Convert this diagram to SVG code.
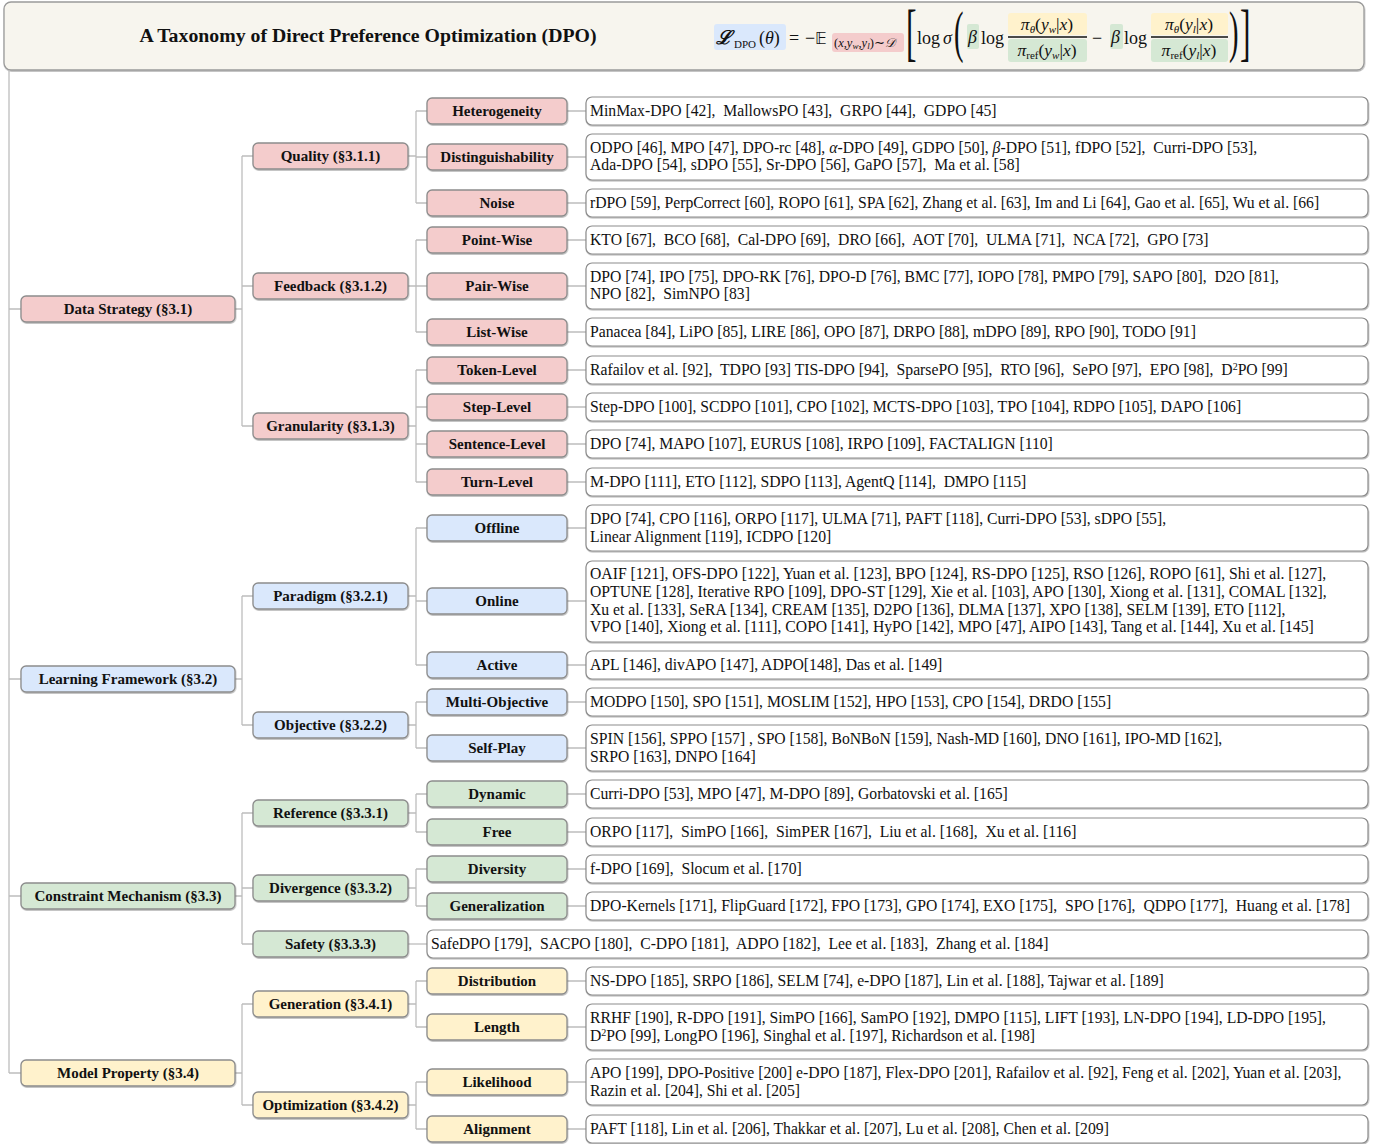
<svg xmlns="http://www.w3.org/2000/svg" width="1376" height="1144" viewBox="0 0 1376 1144">
<defs>
<filter id="sh" x="-5%" y="-20%" width="110%" height="150%"><feDropShadow dx="0.5" dy="1" stdDeviation="0.6" flood-color="#000" flood-opacity="0.3"/></filter>
<style>
.n{stroke:#8c8c8c;stroke-width:1.3;filter:url(#sh)}
.pk{fill:#f4cccc}.bl{fill:#dae8fc}.gr{fill:#d5e8d4}.yl{fill:#fff2cc}
.leaf{fill:#fff;stroke:#8c8c8c;stroke-width:1.2;filter:url(#sh)}
.lbl{font-family:"Liberation Serif",serif;font-weight:bold;font-size:15px;text-anchor:middle;fill:#111}
.t{font-family:"Liberation Serif",serif;font-size:15.7px;fill:#111;white-space:pre}
.c{stroke:#bdbdbd;stroke-width:1.3;fill:none}
.m{font-family:"Liberation Serif",serif;fill:#111}
.i{font-style:italic}
</style>
</defs>
<rect width="1376" height="1144" fill="#ffffff"/>

<g id="header">
<rect x="4" y="2" width="1360" height="68" rx="7" fill="#f7f5ee" stroke="#9a9a9a" stroke-width="1.3" filter="url(#sh)"/>
<text x="368" y="42" text-anchor="middle" font-family="Liberation Serif,serif" font-weight="bold" font-size="19.8" fill="#111">A Taxonomy of Direct Preference Optimization (DPO)</text>
<g id="formula">
<rect x="714" y="24" width="72" height="26" rx="3" fill="#dae8fc"/>
<rect x="832" y="33" width="72" height="19" rx="3" fill="#f4cccc"/>
<rect x="967" y="24" width="12" height="25" rx="2" fill="#d5e8d4"/>
<rect x="1110" y="24" width="13" height="25" rx="2" fill="#d5e8d4"/>
<rect x="1008" y="13" width="79" height="22" rx="3" fill="#fff2cc"/>
<rect x="1008" y="39" width="79" height="23" rx="3" fill="#d5e8d4"/>
<rect x="1151" y="13" width="77" height="22" rx="3" fill="#fff2cc"/>
<rect x="1151" y="39" width="77" height="23" rx="3" fill="#d5e8d4"/>
<text class="m" x="716" y="44" style="font-family:'DejaVu Serif',serif;font-size:19px;font-weight:bold;font-style:italic">ℒ</text>
<text class="m" x="734" y="48" style="font-size:11px">DPO</text>
<text class="m" x="759" y="44" style="font-size:18px">(<tspan class="i">θ</tspan>)</text>
<text class="m" x="789" y="44" style="font-size:18px">=</text>
<text class="m" x="805" y="44" style="font-size:18px">−</text>
<text class="m" x="815" y="44" style="font-family:'DejaVu Sans',sans-serif;font-size:16px">𝔼</text>
<text class="m" x="834" y="47" style="font-size:12.5px">(<tspan class="i">x</tspan>,<tspan class="i">y</tspan><tspan class="i" style="font-size:9px" dy="2">w</tspan><tspan dy="-2">,</tspan><tspan class="i">y</tspan><tspan class="i" style="font-size:9px" dy="2">l</tspan><tspan dy="-2">)∼</tspan><tspan class="i">𝒟</tspan></text>
<text class="m" x="0" y="0" style="font-size:63px" transform="translate(906,53) scale(0.5,1)">[</text>
<text class="m" x="917" y="44" style="font-size:18px">log</text>
<text class="m i" x="943" y="44" style="font-size:18px">σ</text>
<text class="m" x="0" y="0" style="font-size:57px" transform="translate(954,51) scale(0.5,1)">(</text>
<text class="m i" x="968" y="43" style="font-size:18px">β</text>
<text class="m" x="981" y="44" style="font-size:18px">log</text>
<line x1="1008" y1="37" x2="1087" y2="37" stroke="#111" stroke-width="1.3"/>
<text class="m" x="1047" y="30" text-anchor="middle" style="font-size:17.5px"><tspan class="i">π</tspan><tspan class="i" style="font-size:11px" dy="3">θ</tspan><tspan dy="-3">(</tspan><tspan class="i">y</tspan><tspan class="i" style="font-size:11px" dy="3">w</tspan><tspan dy="-3">|</tspan><tspan class="i">x</tspan>)</text>
<text class="m" x="1047" y="56" text-anchor="middle" style="font-size:17.5px"><tspan class="i">π</tspan><tspan style="font-size:11px" dy="3">ref</tspan><tspan dy="-3">(</tspan><tspan class="i">y</tspan><tspan class="i" style="font-size:11px" dy="3">w</tspan><tspan dy="-3">|</tspan><tspan class="i">x</tspan>)</text>
<text class="m" x="1092" y="44" style="font-size:18px">−</text>
<text class="m i" x="1111" y="43" style="font-size:18px">β</text>
<text class="m" x="1124" y="44" style="font-size:18px">log</text>
<line x1="1151" y1="37" x2="1228" y2="37" stroke="#111" stroke-width="1.3"/>
<text class="m" x="1189" y="30" text-anchor="middle" style="font-size:17.5px"><tspan class="i">π</tspan><tspan class="i" style="font-size:11px" dy="3">θ</tspan><tspan dy="-3">(</tspan><tspan class="i">y</tspan><tspan class="i" style="font-size:11px" dy="3">l</tspan><tspan dy="-3">|</tspan><tspan class="i">x</tspan>)</text>
<text class="m" x="1189" y="56" text-anchor="middle" style="font-size:17.5px"><tspan class="i">π</tspan><tspan style="font-size:11px" dy="3">ref</tspan><tspan dy="-3">(</tspan><tspan class="i">y</tspan><tspan class="i" style="font-size:11px" dy="3">l</tspan><tspan dy="-3">|</tspan><tspan class="i">x</tspan>)</text>
<text class="m" x="0" y="0" style="font-size:57px" transform="translate(1229,51) scale(0.5,1)">)</text>
<text class="m" x="0" y="0" style="font-size:63px" transform="translate(1240,53) scale(0.5,1)">]</text>
</g>
</g>

<g id="connectors">
<path class="c" d="M9,70V1073M9,309H21M9,679H21M9,896H21M9,1073H21"/>
<path class="c" d="M235,309H242M242,156V426M242,156H253M242,286H253M242,426H253"/>
<path class="c" d="M235,679H242M242,596V725M242,596H253M242,725H253"/>
<path class="c" d="M235,896H242M242,813V944M242,813H253M242,888H253M242,944H253"/>
<path class="c" d="M235,1073H242M242,1004V1105M242,1004H253M242,1105H253"/>
<path class="c" d="M408,156H416M416,111V203M416,111H427M416,157H427M416,203H427"/>
<path class="c" d="M408,286H416M416,240V332M416,240H427M416,286H427M416,332H427"/>
<path class="c" d="M408,426H416M416,370V482M416,370H427M416,407H427M416,444H427M416,482H427"/>
<path class="c" d="M408,596H416M416,528V665M416,528H427M416,601H427M416,665H427"/>
<path class="c" d="M408,725H416M416,702V748M416,702H427M416,748H427"/>
<path class="c" d="M408,813H416M416,794V832M416,794H427M416,832H427"/>
<path class="c" d="M408,888H416M416,869V906M416,869H427M416,906H427"/>
<path class="c" d="M408,944H427"/>
<path class="c" d="M408,1004H416M416,981V1027M416,981H427M416,1027H427"/>
<path class="c" d="M408,1105H416M416,1082V1129M416,1082H427M416,1129H427"/>
<path class="c" d="M567,111H586M567,157H586M567,203H586M567,240H586M567,286H586M567,332H586M567,370H586M567,407H586M567,444H586M567,482H586M567,528H586M567,601H586M567,665H586M567,702H586M567,748H586M567,794H586M567,832H586M567,869H586M567,906H586M567,981H586M567,1027H586M567,1082H586M567,1129H586"/>
</g>

<g id="level1">
<g id="data-strategy"><rect class="n pk" x="21" y="296" width="214" height="26" rx="5"/><text class="lbl" x="128" y="314">Data Strategy (§3.1)</text></g>
<g id="learning-framework"><rect class="n bl" x="21" y="666" width="214" height="26" rx="5"/><text class="lbl" x="128" y="684">Learning Framework (§3.2)</text></g>
<g id="constraint-mechanism"><rect class="n gr" x="21" y="883" width="214" height="26" rx="5"/><text class="lbl" x="128" y="901">Constraint Mechanism (§3.3)</text></g>
<g id="model-property"><rect class="n yl" x="21" y="1060" width="214" height="26" rx="5"/><text class="lbl" x="128" y="1078">Model Property (§3.4)</text></g>
</g>

<g id="level2">
<g id="quality"><rect class="n pk" x="253" y="143" width="155" height="26" rx="5"/><text class="lbl" x="330.5" y="161">Quality (§3.1.1)</text></g>
<g id="feedback"><rect class="n pk" x="253" y="273" width="155" height="26" rx="5"/><text class="lbl" x="330.5" y="291">Feedback (§3.1.2)</text></g>
<g id="granularity"><rect class="n pk" x="253" y="413" width="155" height="26" rx="5"/><text class="lbl" x="330.5" y="431">Granularity (§3.1.3)</text></g>
<g id="paradigm"><rect class="n bl" x="253" y="583" width="155" height="26" rx="5"/><text class="lbl" x="330.5" y="601">Paradigm (§3.2.1)</text></g>
<g id="objective"><rect class="n bl" x="253" y="712" width="155" height="26" rx="5"/><text class="lbl" x="330.5" y="730">Objective (§3.2.2)</text></g>
<g id="reference"><rect class="n gr" x="253" y="800" width="155" height="26" rx="5"/><text class="lbl" x="330.5" y="818">Reference (§3.3.1)</text></g>
<g id="divergence"><rect class="n gr" x="253" y="875" width="155" height="26" rx="5"/><text class="lbl" x="330.5" y="893">Divergence (§3.3.2)</text></g>
<g id="safety"><rect class="n gr" x="253" y="931" width="155" height="26" rx="5"/><text class="lbl" x="330.5" y="949">Safety (§3.3.3)</text></g>
<g id="generation"><rect class="n yl" x="253" y="991" width="155" height="26" rx="5"/><text class="lbl" x="330.5" y="1009">Generation (§3.4.1)</text></g>
<g id="optimization"><rect class="n yl" x="253" y="1092" width="155" height="26" rx="5"/><text class="lbl" x="330.5" y="1110">Optimization (§3.4.2)</text></g>
</g>

<g id="level3">
<g id="heterogeneity"><rect class="n pk" x="427" y="98" width="140" height="26" rx="5"/><text class="lbl" x="497" y="116">Heterogeneity</text></g>
<g id="distinguishability"><rect class="n pk" x="427" y="144" width="140" height="26" rx="5"/><text class="lbl" x="497" y="162">Distinguishability</text></g>
<g id="noise"><rect class="n pk" x="427" y="190" width="140" height="26" rx="5"/><text class="lbl" x="497" y="208">Noise</text></g>
<g id="point-wise"><rect class="n pk" x="427" y="227" width="140" height="26" rx="5"/><text class="lbl" x="497" y="245">Point-Wise</text></g>
<g id="pair-wise"><rect class="n pk" x="427" y="273" width="140" height="26" rx="5"/><text class="lbl" x="497" y="291">Pair-Wise</text></g>
<g id="list-wise"><rect class="n pk" x="427" y="319" width="140" height="26" rx="5"/><text class="lbl" x="497" y="337">List-Wise</text></g>
<g id="token-level"><rect class="n pk" x="427" y="357" width="140" height="26" rx="5"/><text class="lbl" x="497" y="375">Token-Level</text></g>
<g id="step-level"><rect class="n pk" x="427" y="394" width="140" height="26" rx="5"/><text class="lbl" x="497" y="412">Step-Level</text></g>
<g id="sentence-level"><rect class="n pk" x="427" y="431" width="140" height="26" rx="5"/><text class="lbl" x="497" y="449">Sentence-Level</text></g>
<g id="turn-level"><rect class="n pk" x="427" y="469" width="140" height="26" rx="5"/><text class="lbl" x="497" y="487">Turn-Level</text></g>
<g id="offline"><rect class="n bl" x="427" y="515" width="140" height="26" rx="5"/><text class="lbl" x="497" y="533">Offline</text></g>
<g id="online"><rect class="n bl" x="427" y="588" width="140" height="26" rx="5"/><text class="lbl" x="497" y="606">Online</text></g>
<g id="active"><rect class="n bl" x="427" y="652" width="140" height="26" rx="5"/><text class="lbl" x="497" y="670">Active</text></g>
<g id="multi-objective"><rect class="n bl" x="427" y="689" width="140" height="26" rx="5"/><text class="lbl" x="497" y="707">Multi-Objective</text></g>
<g id="self-play"><rect class="n bl" x="427" y="735" width="140" height="26" rx="5"/><text class="lbl" x="497" y="753">Self-Play</text></g>
<g id="dynamic"><rect class="n gr" x="427" y="781" width="140" height="26" rx="5"/><text class="lbl" x="497" y="799">Dynamic</text></g>
<g id="free"><rect class="n gr" x="427" y="819" width="140" height="26" rx="5"/><text class="lbl" x="497" y="837">Free</text></g>
<g id="diversity"><rect class="n gr" x="427" y="856" width="140" height="26" rx="5"/><text class="lbl" x="497" y="874">Diversity</text></g>
<g id="generalization"><rect class="n gr" x="427" y="893" width="140" height="26" rx="5"/><text class="lbl" x="497" y="911">Generalization</text></g>
<g id="distribution"><rect class="n yl" x="427" y="968" width="140" height="26" rx="5"/><text class="lbl" x="497" y="986">Distribution</text></g>
<g id="length"><rect class="n yl" x="427" y="1014" width="140" height="26" rx="5"/><text class="lbl" x="497" y="1032">Length</text></g>
<g id="likelihood"><rect class="n yl" x="427" y="1069" width="140" height="26" rx="5"/><text class="lbl" x="497" y="1087">Likelihood</text></g>
<g id="alignment"><rect class="n yl" x="427" y="1116" width="140" height="26" rx="5"/><text class="lbl" x="497" y="1134">Alignment</text></g>
</g>

<g id="leaves">
<g id="leaf-heterogeneity"><rect class="leaf" x="586" y="97" width="782" height="28" rx="6"/><text class="t" x="590" y="116">MinMax-DPO [42],  MallowsPO [43],  GRPO [44],  GDPO [45]</text></g>
<g id="leaf-distinguishability"><rect class="leaf" x="586" y="134" width="782" height="46" rx="6"/><text class="t" x="590" y="153">ODPO [46], MPO [47], DPO-rc [48], <tspan class="i">α</tspan>-DPO [49], GDPO [50], <tspan class="i">β</tspan>-DPO [51], fDPO [52],  Curri-DPO [53],</text><text class="t" x="590" y="170">Ada-DPO [54], sDPO [55], Sr-DPO [56], GaPO [57],  Ma et al. [58]</text></g>
<g id="leaf-noise"><rect class="leaf" x="586" y="189" width="782" height="28" rx="6"/><text class="t" x="590" y="208">rDPO [59], PerpCorrect [60], ROPO [61], SPA [62], Zhang et al. [63], Im and Li [64], Gao et al. [65], Wu et al. [66]</text></g>
<g id="leaf-point-wise"><rect class="leaf" x="586" y="226" width="782" height="28" rx="6"/><text class="t" x="590" y="245">KTO [67],  BCO [68],  Cal-DPO [69],  DRO [66],  AOT [70],  ULMA [71],  NCA [72],  GPO [73]</text></g>
<g id="leaf-pair-wise"><rect class="leaf" x="586" y="263" width="782" height="46" rx="6"/><text class="t" x="590" y="282">DPO [74], IPO [75], DPO-RK [76], DPO-D [76], BMC [77], IOPO [78], PMPO [79], SAPO [80],  D2O [81],</text><text class="t" x="590" y="299">NPO [82],  SimNPO [83]</text></g>
<g id="leaf-list-wise"><rect class="leaf" x="586" y="318" width="782" height="28" rx="6"/><text class="t" x="590" y="337">Panacea [84], LiPO [85], LIRE [86], OPO [87], DRPO [88], mDPO [89], RPO [90], TODO [91]</text></g>
<g id="leaf-token-level"><rect class="leaf" x="586" y="356" width="782" height="28" rx="6"/><text class="t" x="590" y="375">Rafailov et al. [92],  TDPO [93] TIS-DPO [94],  SparsePO [95],  RTO [96],  SePO [97],  EPO [98],  D<tspan style="font-size:10px" dy="-5">2</tspan><tspan dy="5">PO [99]</tspan></text></g>
<g id="leaf-step-level"><rect class="leaf" x="586" y="393" width="782" height="28" rx="6"/><text class="t" x="590" y="412">Step-DPO [100], SCDPO [101], CPO [102], MCTS-DPO [103], TPO [104], RDPO [105], DAPO [106]</text></g>
<g id="leaf-sentence-level"><rect class="leaf" x="586" y="430" width="782" height="28" rx="6"/><text class="t" x="590" y="449">DPO [74], MAPO [107], EURUS [108], IRPO [109], FACTALIGN [110]</text></g>
<g id="leaf-turn-level"><rect class="leaf" x="586" y="468" width="782" height="28" rx="6"/><text class="t" x="590" y="487">M-DPO [111], ETO [112], SDPO [113], AgentQ [114],  DMPO [115]</text></g>
<g id="leaf-offline"><rect class="leaf" x="586" y="505" width="782" height="46" rx="6"/><text class="t" x="590" y="524">DPO [74], CPO [116], ORPO [117], ULMA [71], PAFT [118], Curri-DPO [53], sDPO [55],</text><text class="t" x="590" y="542">Linear Alignment [119], ICDPO [120]</text></g>
<g id="leaf-online"><rect class="leaf" x="586" y="561" width="782" height="81" rx="6"/><text class="t" x="590" y="579">OAIF [121], OFS-DPO [122], Yuan et al. [123], BPO [124], RS-DPO [125], RSO [126], ROPO [61], Shi et al. [127],</text><text class="t" x="590" y="597">OPTUNE [128], Iterative RPO [109], DPO-ST [129], Xie et al. [103], APO [130], Xiong et al. [131], COMAL [132],</text><text class="t" x="590" y="615">Xu et al. [133], SeRA [134], CREAM [135], D2PO [136], DLMA [137], XPO [138], SELM [139], ETO [112],</text><text class="t" x="590" y="632">VPO [140], Xiong et al. [111], COPO [141], HyPO [142], MPO [47], AIPO [143], Tang et al. [144], Xu et al. [145]</text></g>
<g id="leaf-active"><rect class="leaf" x="586" y="651" width="782" height="28" rx="6"/><text class="t" x="590" y="670">APL [146], divAPO [147], ADPO[148], Das et al. [149]</text></g>
<g id="leaf-multi-objective"><rect class="leaf" x="586" y="688" width="782" height="28" rx="6"/><text class="t" x="590" y="707">MODPO [150], SPO [151], MOSLIM [152], HPO [153], CPO [154], DRDO [155]</text></g>
<g id="leaf-self-play"><rect class="leaf" x="586" y="725" width="782" height="46" rx="6"/><text class="t" x="590" y="744">SPIN [156], SPPO [157] , SPO [158], BoNBoN [159], Nash-MD [160], DNO [161], IPO-MD [162],</text><text class="t" x="590" y="762">SRPO [163], DNPO [164]</text></g>
<g id="leaf-dynamic"><rect class="leaf" x="586" y="780" width="782" height="28" rx="6"/><text class="t" x="590" y="799">Curri-DPO [53], MPO [47], M-DPO [89], Gorbatovski et al. [165]</text></g>
<g id="leaf-free"><rect class="leaf" x="586" y="818" width="782" height="28" rx="6"/><text class="t" x="590" y="837">ORPO [117],  SimPO [166],  SimPER [167],  Liu et al. [168],  Xu et al. [116]</text></g>
<g id="leaf-diversity"><rect class="leaf" x="586" y="855" width="782" height="28" rx="6"/><text class="t" x="590" y="874">f-DPO [169],  Slocum et al. [170]</text></g>
<g id="leaf-generalization"><rect class="leaf" x="586" y="892" width="782" height="28" rx="6"/><text class="t" x="590" y="911">DPO-Kernels [171], FlipGuard [172], FPO [173], GPO [174], EXO [175],  SPO [176],  QDPO [177],  Huang et al. [178]</text></g>
<g id="leaf-safety"><rect class="leaf" x="427" y="930" width="941" height="28" rx="6"/><text class="t" x="431" y="949">SafeDPO [179],  SACPO [180],  C-DPO [181],  ADPO [182],  Lee et al. [183],  Zhang et al. [184]</text></g>
<g id="leaf-distribution"><rect class="leaf" x="586" y="967" width="782" height="28" rx="6"/><text class="t" x="590" y="986">NS-DPO [185], SRPO [186], SELM [74], e-DPO [187], Lin et al. [188], Tajwar et al. [189]</text></g>
<g id="leaf-length"><rect class="leaf" x="586" y="1004" width="782" height="46" rx="6"/><text class="t" x="590" y="1023">RRHF [190], R-DPO [191], SimPO [166], SamPO [192], DMPO [115], LIFT [193], LN-DPO [194], LD-DPO [195],</text><text class="t" x="590" y="1041">D<tspan style="font-size:10px" dy="-5">2</tspan><tspan dy="5">PO [99], LongPO [196], Singhal et al. [197], Richardson et al. [198]</tspan></text></g>
<g id="leaf-likelihood"><rect class="leaf" x="586" y="1059" width="782" height="46" rx="6"/><text class="t" x="590" y="1078">APO [199], DPO-Positive [200] e-DPO [187], Flex-DPO [201], Rafailov et al. [92], Feng et al. [202], Yuan et al. [203],</text><text class="t" x="590" y="1096">Razin et al. [204], Shi et al. [205]</text></g>
<g id="leaf-alignment"><rect class="leaf" x="586" y="1115" width="782" height="28" rx="6"/><text class="t" x="590" y="1134">PAFT [118], Lin et al. [206], Thakkar et al. [207], Lu et al. [208], Chen et al. [209]</text></g>
</g>
</svg>
